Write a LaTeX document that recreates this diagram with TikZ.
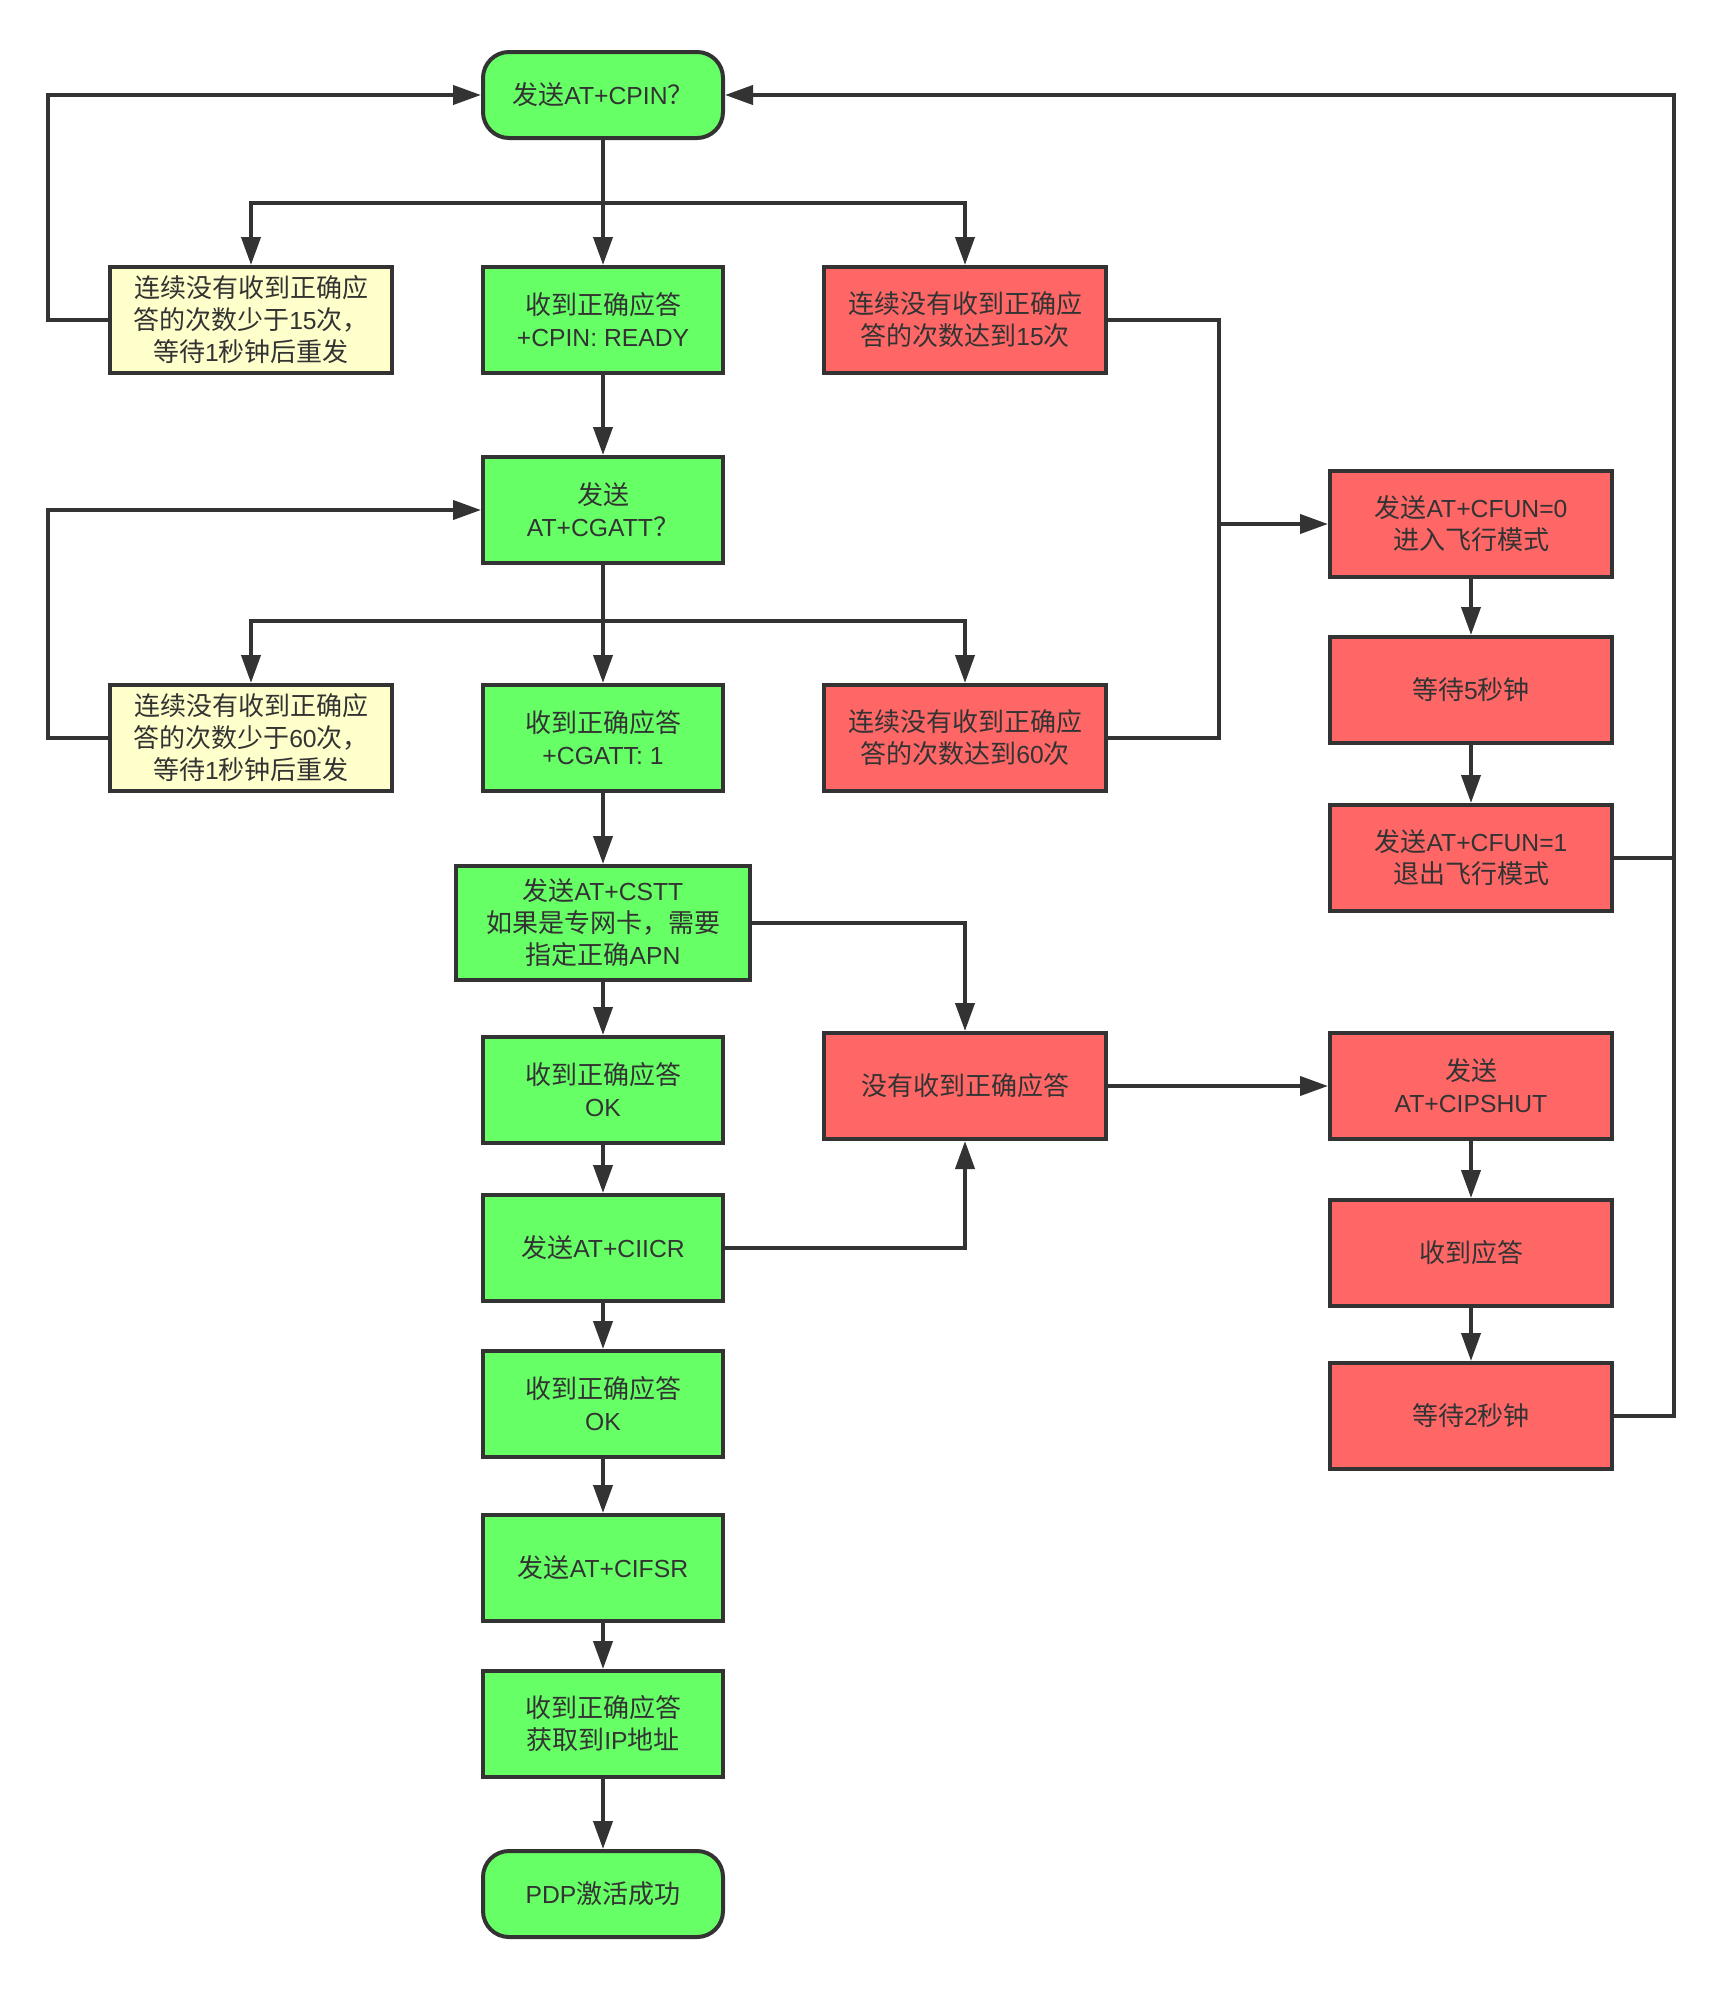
\documentclass[tikz,border=0pt]{standalone}
\usepackage{fontspec}
\setmainfont{Liberation Sans}[Scale=0.95]
\newfontfamily\cjk{Noto Sans CJK SC}
\newcommand\zh[1]{{\cjk #1}}
\usetikzlibrary{arrows.meta,positioning}
\definecolor{ink}{HTML}{333333}
\definecolor{leaf}{HTML}{66FF66}
\definecolor{cream}{HTML}{FFFFCC}
\definecolor{salmon}{HTML}{FF6666}
\tikzset{>={Triangle[length=28pt,width=19pt]},box/.style={draw=ink,line width=4pt,fill=leaf,text=ink,align=center,minimum width=240pt,minimum height=106pt,inner sep=0pt,font=\fontsize{26}{32}\selectfont},wide/.style={box,minimum width=282pt},term/.style={box,rounded corners=26pt,minimum height=86pt},arr/.style={->,ink,line width=4pt},link/.style={ink,line width=4pt}}

\begin{document}
\begin{tikzpicture}[x=1pt,y=-1pt]
\useasboundingbox (0,0) rectangle (1722,1989);
% main column
\node[term] (cpin) at (603,95) {\zh{发送}AT+CPIN\zh{？}};
\node[box] (ready) at (603,320) {\zh{收到正确应答}\\+CPIN: READY};
\node[box] (cgatt) at (603,510) {\zh{发送}\\AT+CGATT\zh{？}};
\node[box] (attached) at (603,738) {\zh{收到正确应答}\\+CGATT: 1};
\node[box,minimum width=294pt,minimum height=114pt] (cstt) at (603,923) {\zh{发送}AT+CSTT\\\zh{如果是专网卡，需要}\\\zh{指定正确}APN};
\node[box] (ok1) at (603,1090) {\zh{收到正确应答}\\OK};
\node[box] (ciicr) at (603,1248) {\zh{发送}AT+CIICR};
\node[box] (ok2) at (603,1404) {\zh{收到正确应答}\\OK};
\node[box] (cifsr) at (603,1568) {\zh{发送}AT+CIFSR};
\node[box] (gotip) at (603,1724) {\zh{收到正确应答}\\\zh{获取到}IP\zh{地址}};
\node[term] (pdp) at (603,1894) {PDP\zh{激活成功}};
% retries
\node[wide,fill=cream] (few15) at (251,320) {\zh{连续没有收到正确应}\\\zh{答的次数少于}15\zh{次，}\\\zh{等待}1\zh{秒钟后重发}};
\node[wide,fill=cream] (few60) at (251,738) {\zh{连续没有收到正确应}\\\zh{答的次数少于}60\zh{次，}\\\zh{等待}1\zh{秒钟后重发}};
% failures
\node[wide,fill=salmon] (max15) at (965,320) {\zh{连续没有收到正确应}\\\zh{答的次数达到}15\zh{次}};
\node[wide,fill=salmon] (max60) at (965,738) {\zh{连续没有收到正确应}\\\zh{答的次数达到}60\zh{次}};
\node[wide,fill=salmon] (noans) at (965,1086) {\zh{没有收到正确应答}};
\node[wide,fill=salmon] (cfunoff) at (1471,524) {\zh{发送}AT+CFUN=0\\\zh{进入飞行模式}};
\node[wide,fill=salmon] (wait5) at (1471,690) {\zh{等待}5\zh{秒钟}};
\node[wide,fill=salmon] (cfunon) at (1471,858) {\zh{发送}AT+CFUN=1\\\zh{退出飞行模式}};
\node[wide,fill=salmon] (shut) at (1471,1086) {\zh{发送}\\AT+CIPSHUT};
\node[wide,fill=salmon] (ans) at (1471,1253) {\zh{收到应答}};
\node[wide,fill=salmon] (wait2) at (1471,1416) {\zh{等待}2\zh{秒钟}};
\coordinate (fork1) at (603,203);
\coordinate (fork2) at (603,621);
\coordinate (merge) at (1219,524);
% connectors
\foreach \a/\b in {cpin/ready,ready/cgatt,cgatt/attached,attached/cstt,cstt/ok1,ok1/ciicr,ciicr/ok2,ok2/cifsr,cifsr/gotip,gotip/pdp,cfunoff/wait5,wait5/cfunon,shut/ans,ans/wait2,merge/cfunoff,noans/shut}{\draw[arr] (\a) -- (\b);}
\foreach \f/\n in {fork1/few15,fork1/max15,fork2/few60,fork2/max60}{\draw[arr] (\f) -| (\n);}
\draw[arr] (few15.west) -- ++(-60,0) |- (cpin);
\draw[arr] (few60.west) -- ++(-60,0) |- (cgatt);
\draw[link] (max15) -| (merge);
\draw[link] (max60) -| (merge);
\draw[arr] (cstt) -| (noans);
\draw[arr] (ciicr) -| (noans);
\draw[link] (cfunon.east) -- ++(60,0);
\draw[arr] (wait2.east) -- ++(60,0) |- (cpin);
\end{tikzpicture}
\end{document}
